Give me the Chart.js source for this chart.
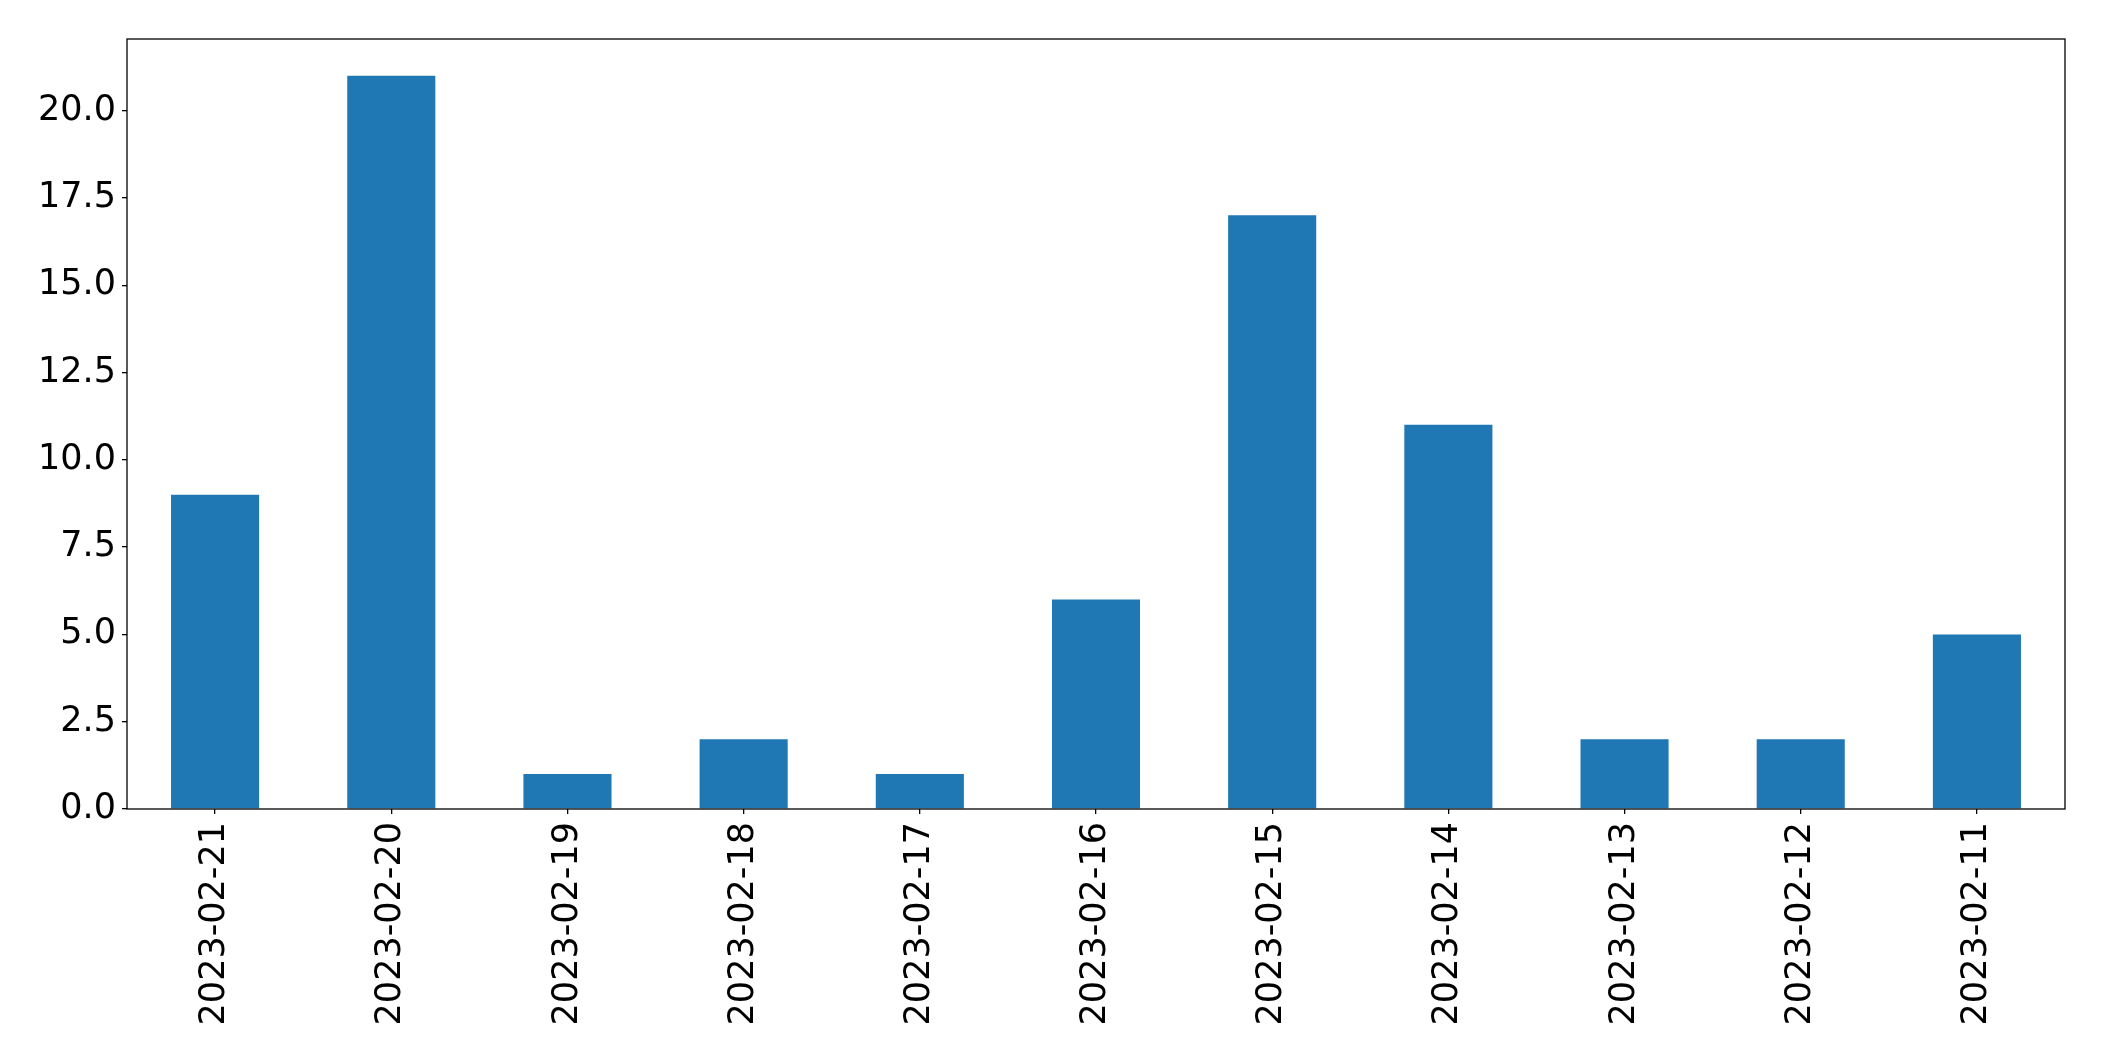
<!DOCTYPE html>
<html>
<head>
<meta charset="utf-8">
<script src="https://cdn.jsdelivr.net/npm/chart.js@4"></script>
<style>
  html, body { margin: 0; padding: 0; background: #ffffff; }
  #wrap { width: 2104px; height: 1061px; }
</style>
</head>
<body>
<div id="wrap"><canvas id="barChart" width="2104" height="1061"></canvas></div>
<script>
const dates = ['2023-02-21', '2023-02-20', '2023-02-19', '2023-02-18', '2023-02-17', '2023-02-16',
  '2023-02-15', '2023-02-14', '2023-02-13', '2023-02-12', '2023-02-11'];
const counts = [9, 21, 1, 2, 1, 6, 17, 11, 2, 2, 5];
const yTicks = [0, 2.5, 5, 7.5, 10, 12.5, 15, 17.5, 20];

// box around the plot area, like matplotlib's spines
const frame = {
  id: 'frame',
  afterDatasetsDraw(chart) {
    const { ctx, chartArea: a } = chart;
    ctx.save();
    ctx.strokeStyle = '#000000';
    ctx.lineWidth = 1.3;
    ctx.strokeRect(a.left, a.top, a.right - a.left, a.bottom - a.top);
    ctx.restore();
  }
};

Chart.defaults.font.family = '"DejaVu Sans", sans-serif';
Chart.defaults.color = '#000000';

new Chart(document.getElementById('barChart').getContext('2d'), {
  type: 'bar',
  data: {
    labels: dates,
    datasets: [{
      data: counts,
      backgroundColor: '#1f77b4',
      borderWidth: 0,
      categoryPercentage: 1.0,
      barPercentage: 0.5
    }]
  },
  options: {
    responsive: false,
    animation: false,
    layout: { padding: { top: 39, right: 39, left: 0, bottom: 0 } },
    plugins: { legend: { display: false }, tooltip: { enabled: false } },
    scales: {
      x: {
        grid: { display: true, offset: false, drawOnChartArea: false, drawTicks: true, tickLength: 5, color: '#000000', lineWidth: 1.3 },
        border: { display: false },
        ticks: { minRotation: 90, maxRotation: 90, autoSkip: false, padding: 8, font: { size: 35 } },
        afterFit(axis) { axis.height = 252; }
      },
      y: {
        min: 0,
        max: 22.05,
        afterBuildTicks(axis) { axis.ticks = yTicks.map(v => ({ value: v })); },
        grid: { display: true, drawOnChartArea: false, drawTicks: true, tickLength: 5, color: '#000000', lineWidth: 1.3 },
        border: { display: false },
        ticks: { padding: 6, font: { size: 35 }, callback: v => v.toFixed(1) },
        afterFit(axis) { axis.width = 127; }
      }
    }
  },
  plugins: [frame]
});
</script>
</body>
</html>
